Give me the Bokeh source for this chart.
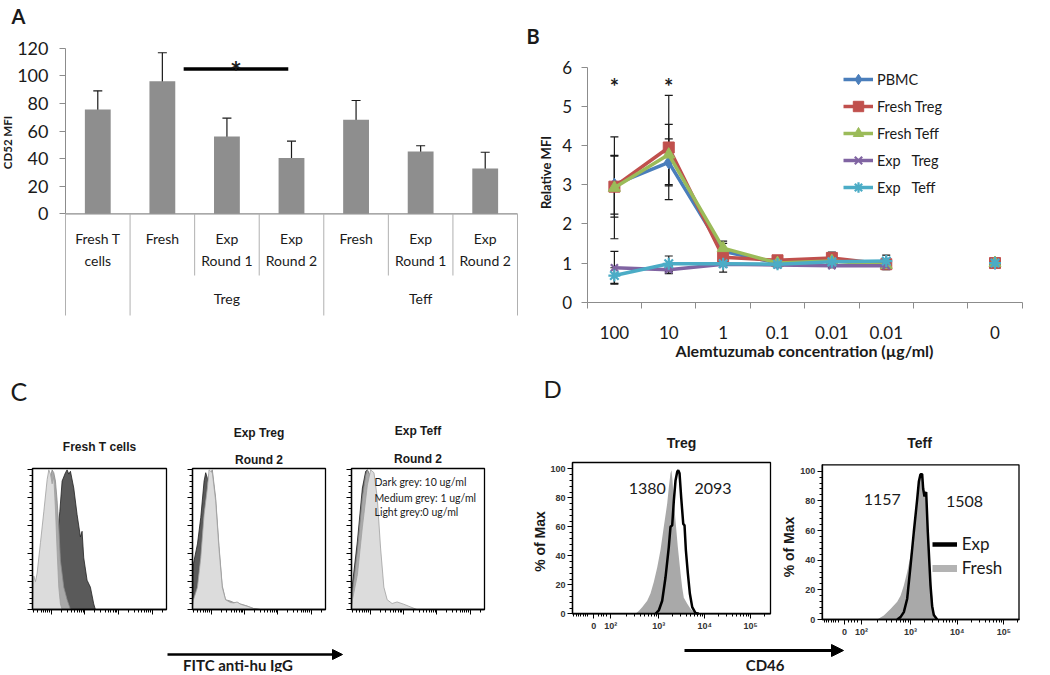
import numpy as np
from bokeh.plotting import figure
from bokeh.layouts import row, column
from bokeh.models import (Range1d, FixedTicker, Label, Whisker, TeeHead,
                          ColumnDataSource, Legend, LegendItem, Arrow, NormalHead)
from bokeh.embed import file_html
from bokeh.resources import INLINE
from bokeh.core.properties import value

NAN = float("nan")
FONT = "Lato"
FLOW = "Liberation Sans"
INK = "#1a1a1a"
AXG = "#8c8c8c"

# ---------------- Panel A data ----------------
a_labels = ["Fresh T\ncells", "Fresh", "Exp\nRound 1", "Exp\nRound 2",
            "Fresh", "Exp\nRound 1", "Exp\nRound 2"]
a_groups = ["", "Treg", "Treg", "Treg", "Teff", "Teff", "Teff"]
a_mean = [75.6, 96.1, 56.0, 40.5, 68.1, 45.1, 32.8]
a_upper = [89.1, 116.7, 69.3, 52.6, 82.1, 49.3, 44.6]
a_lower = [62.8, 75.6, 43.5, 28.5, 54.1, 41.0, 21.4]
a_yticks = [0, 20, 40, 60, 80, 100, 120]
a_sig_x = [1.83, 3.45]
a_sig_y = 105

# ---------------- Panel B data ----------------
b_conc = ["100", "10", "1", "0.1", "0.01", "0.01", "", "0"]
b_yticks = [0, 1, 2, 3, 4, 5, 6]
b_names = ["PBMC", "Fresh Treg", "Fresh Teff", "Exp   Treg", "Exp   Teff"]
b_pbmc = [3.00, 3.57, 1.30, 1.00, 1.05, 1.00, NAN, 1.0]
b_fresh_treg = [2.95, 3.95, 1.15, 1.07, 1.13, 0.97, NAN, 1.0]
b_fresh_teff = [2.92, 3.77, 1.38, 1.00, 1.05, 0.95, NAN, 1.0]
b_exp_treg = [0.88, 0.83, 0.97, 0.95, 0.93, 0.93, NAN, 1.0]
b_exp_teff = [0.68, 0.98, 0.98, 0.97, 1.03, 1.05, NAN, 1.0]
b_pbmc_err = [0.75, 0.60, 0.20, 0.05, 0.10, 0.10, NAN, NAN]
b_fresh_treg_err = [0.78, 1.33, 0.10, 0.05, 0.15, 0.10, NAN, NAN]
b_fresh_teff_err = [1.30, 0.77, 0.18, 0.05, 0.10, 0.12, NAN, NAN]
b_exp_treg_err = [0.42, 0.10, 0.20, 0.05, 0.05, 0.05, NAN, NAN]
b_exp_teff_err = [0.20, 0.20, 0.05, 0.05, 0.10, 0.15, NAN, NAN]
b_colors = ["#4a7ebb", "#c0504d", "#9bbb59", "#8064a2", "#4bacc6"]
b_markers = ["diamond", "square", "triangle", "x", "asterisk"]
b_sizes = [13, 11, 12, 10, 12]
b_star_idx = [0, 1]

# ---------------- Panel C data (x in log10 decades, y in % of max) ----------------
c_titles = [["Fresh T cells"], ["Exp Treg", "Round 2"], ["Exp Teff", "Round 2"]]
c_note = ["Dark grey: 10 ug/ml", "Medium grey: 1 ug/ml", "Light grey:0 ug/ml"]
c1_light_x = [0.445, 0.484, 0.534, 0.583, 0.682, 0.781, 0.880, 0.930, 0.979, 1.029, 1.078, 1.128, 1.177, 1.227, 1.276, 1.326]
c1_light_y = [0, 24, 20, 26, 48, 70, 93, 100, 97, 90, 95, 72, 42, 16, 4, 0]
c1_med_x = [0.682, 0.781, 0.880, 0.979, 1.029, 1.078, 1.128, 1.177, 1.227, 1.276, 1.375, 1.474, 1.573]
c1_med_y = [0, 28, 66, 95, 100, 98, 92, 78, 59, 35, 16, 7, 0]
c1_dark_x = [0.979, 1.078, 1.177, 1.257, 1.326, 1.425, 1.474, 1.524, 1.573, 1.672, 1.771, 1.870, 1.919, 1.969, 2.068, 2.167, 2.266, 2.315]
c1_dark_y = [0, 16, 50, 70, 92, 98, 100, 97, 99, 87, 68, 52, 56, 37, 21, 16, 4, 0]
c2_light_x = [0.445, 0.475, 0.594, 0.693, 0.792, 0.891, 0.940, 1.039, 1.138, 1.237, 1.336, 1.435, 1.583, 1.682, 1.781, 1.880, 2.078, 2.276, 2.474]
c2_light_y = [0, 7, 16, 37, 68, 87, 100, 98, 78, 44, 16, 7, 5, 4.7, 5.4, 3.8, 2.4, 0.7, 0]
c2_med_x = [0.445, 0.475, 0.594, 0.693, 0.792, 0.891, 0.940, 1.039, 1.138, 1.237, 1.336, 1.435, 1.583, 1.682, 1.781, 1.880, 2.078, 2.276, 2.474]
c2_med_y = [0, 5, 14, 33, 64, 85, 97, 100, 80, 46, 17, 7, 6, 5, 5, 4, 2.5, 0.7, 0]
c2_dark_x = [0.445, 0.475, 0.594, 0.693, 0.792, 0.841, 0.891, 0.940, 1.039, 1.138, 1.237, 1.336]
c2_dark_y = [0, 33, 47, 66, 92, 98, 94, 90, 80, 44, 16, 0]
c3_light_x = [0.444, 0.474, 0.622, 0.771, 0.920, 1.019, 1.118, 1.217, 1.316, 1.415, 1.514, 1.662, 1.811, 2.009, 2.207, 2.405]
c3_light_y = [0, 7, 25, 59, 89, 100, 98, 80, 44, 16, 7, 4.3, 5.4, 3.8, 1.9, 0]
c3_med_x = [0.444, 0.474, 0.622, 0.771, 0.870, 0.920, 1.019, 1.167, 1.266, 1.365, 1.464, 1.514]
c3_med_y = [0, 12, 42, 80, 96, 100, 95, 72, 42, 17, 7, 0]
c3_dark_x = [0.444, 0.474, 0.622, 0.771, 0.870, 0.920, 1.019, 1.167, 1.266, 1.365, 1.464, 1.514]
c3_dark_y = [0, 18, 49, 87, 99, 100, 94, 70, 40, 16, 7, 0]
c_xlabel = "FITC anti-hu IgG"

# ---------------- Panel D data (x in display decades, y in % of max) ----------------
d_titles = ["Treg", "Teff"]
d_tick_pos = [1.583, 1.95, 3, 4, 5]
d_tick_txt = ["0", "10\u00b2", "10\u00b3", "10\u2074", "10\u2075"]
d_yticks = [0, 20, 40, 60, 80, 100]
d1_fresh_x = [2.49, 2.563, 2.637, 2.747, 2.819, 2.891, 2.965, 3.037, 3.109, 3.183, 3.218, 3.255, 3.277, 3.299, 3.328, 3.365, 3.415, 3.474, 3.511, 3.546, 3.620, 3.692, 3.764, 3.838]
d1_fresh_y = [0, 2, 4.6, 9, 14, 22, 32, 44, 60, 76, 87, 97, 99, 92, 78, 64, 46, 28, 18, 11, 7, 3.4, 1, 0]
d1_exp_x = [2.928, 3.0, 3.074, 3.146, 3.218, 3.255, 3.292, 3.328, 3.365, 3.402, 3.424, 3.452, 3.489, 3.533, 3.561, 3.590, 3.633, 3.677, 3.729, 3.801, 3.873]
d1_exp_y = [0, 2.3, 9, 25, 46, 60, 61, 78, 92, 98, 99, 97, 80, 62, 61, 44, 28, 14, 4.6, 0.5, 0]
d2_fresh_x = [2.286, 2.428, 2.571, 2.715, 2.786, 2.857, 2.929, 3.0, 3.071, 3.107, 3.143, 3.179, 3.214, 3.250, 3.286, 3.322, 3.357, 3.393, 3.429, 3.464, 3.500, 3.536, 3.572]
d2_fresh_y = [0, 2.7, 7, 12, 16, 23, 32, 43, 59, 71, 81, 93, 98, 97, 88, 86, 66, 48, 30, 16, 5, 1, 0]
d2_exp_x = [2.715, 2.786, 2.857, 2.929, 3.0, 3.071, 3.143, 3.179, 3.214, 3.250, 3.272, 3.300, 3.336, 3.371, 3.429, 3.464, 3.500, 3.572]
d2_exp_y = [0, 1.6, 5, 14, 36, 59, 81, 93, 98, 98, 88, 83, 86, 59, 23, 9, 3, 0]
d1_mfi = ["1380", "2093"]
d2_mfi = ["1157", "1508"]
d_legend = ["Exp", "Fresh"]
d_xlabel = "CD46"

TOP_H = 405   # height of the upper row of panels (A, B)
BOT_Y = 672   # bottom of the whole figure


# ---------------- helpers ----------------
def make_fig(canvas, xmap, ymap, **kw):
    """Figure whose frame fills its canvas; xmap/ymap = (page_a, data_a, page_b, data_b)."""
    x0, y0, x1, y1 = canvas
    pa_, da_, pb_, db_ = xmap
    qa, ea, qb, eb = ymap
    sx = (db_ - da_) / (pb_ - pa_)
    sy = (eb - ea) / (qb - qa)

    def fx(px):
        return da_ + (px - pa_) * sx

    def fy(py):
        return ea + (py - qa) * sy

    p = figure(width=x1 - x0, height=y1 - y0,
               x_range=Range1d(fx(x0), fx(x1)), y_range=Range1d(fy(y1), fy(y0)),
               title=None, output_backend="svg", toolbar_location=None,
               min_border=0, min_border_left=0, min_border_right=0,
               min_border_top=0, min_border_bottom=0, **kw)
    p.outline_line_color = None
    p.background_fill_color = "white"
    p.border_fill_color = "white"
    if "frame_align" in p.properties():
        p.frame_align = False
    p.grid.visible = False
    return p, (lambda px, py: (fx(px), fy(py)))


def label(p, xy, text, size, bold=False, align="center", baseline="middle",
          angle=0.0, font=FONT, color=INK):
    p.add_layout(Label(x=xy[0], y=xy[1], text=text, text_font=font,
                       text_font_size=f"{size}px",
                       text_font_style="bold" if bold else "normal",
                       text_align=align, text_baseline=baseline, angle=angle,
                       text_color=color))


def log_minors(lo, hi):
    out = []
    for d in range(-1, 7):
        for k in range(2, 10):
            v = d + np.log10(k)
            if lo < v < hi:
                out.append(float(v))
    return out


IDENT = (0, 0, 1, 1)

# ================= Panel A =================
pa, mA = make_fig((0, 0, 522, TOP_H), (65, 0, 517, 7), (213.3, 0, 47.7, 120), x_axis_type=None)
ya = pa.yaxis[0]
ya.fixed_location = 0
ya.ticker = FixedTicker(ticks=a_yticks)
ya.bounds = (0, 120)
ya.axis_line_color = AXG
ya.major_tick_line_color = AXG
ya.minor_tick_line_color = None
ya.major_tick_out = 6
ya.major_tick_in = 0
ya.major_label_standoff = 11
ya.major_label_text_font = FONT
ya.major_label_text_font_size = "18px"
ya.major_label_text_color = INK

n_a = len(a_labels)
a_x = [i + 0.5 for i in range(n_a)]
pa.vbar(x=a_x, top=a_mean, width=0.4, fill_color="#8e8e8e", line_color=None)
pa.segment(x0=[0], y0=[0], x1=[n_a], y1=[0], line_color=AXG, line_width=1.2)
asrc = ColumnDataSource(dict(x=a_x, upper=a_upper, lower=a_lower))
pa.add_layout(Whisker(source=asrc, base="x", upper="upper", lower="lower",
                      line_color=INK, line_width=1.2,
                      upper_head=TeeHead(size=9, line_color=INK, line_width=1.2),
                      lower_head=TeeHead(size=9, line_color=INK, line_width=1.2)))
y_full = mA(0, 315)[1]
y_short = mA(0, 275)[1]
sep_x, sep_y = [], []
for b in range(n_a + 1):
    full = b in (0, n_a) or a_groups[b - 1] != a_groups[b]
    sep_x.append(b)
    sep_y.append(y_full if full else y_short)
pa.segment(x0=sep_x, y0=[0] * len(sep_x), x1=sep_x, y1=sep_y, line_color="#b0b0b0", line_width=1)
pa.text(x=a_x, y=[mA(0, 229)[1]] * n_a, text=a_labels, text_align="center",
        text_baseline="top", text_font=value(FONT), text_font_size="14px",
        text_line_height=1.35, text_color=INK)
grp_names, grp_x = [], []
for g in dict.fromkeys(a_groups):
    if g:
        idx = [i for i, gg in enumerate(a_groups) if gg == g]
        grp_names.append(g)
        grp_x.append((idx[0] + idx[-1] + 1) / 2)
pa.text(x=grp_x, y=[mA(0, 298)[1]] * len(grp_x), text=grp_names, text_align="center",
        text_baseline="middle", text_font=value(FONT), text_font_size="14px", text_color=INK)
pa.segment(x0=[a_sig_x[0]], y0=[a_sig_y], x1=[a_sig_x[1]], y1=[a_sig_y],
           line_color="black", line_width=3.5)
label(pa, ((a_sig_x[0] + a_sig_x[1]) / 2, mA(0, 70)[1]), "*", 28, bold=True)
label(pa, mA(11, 3), "A", 20, bold=True, align="left", baseline="top")
label(pa, mA(10, 390), "C", 25, align="left")
label(pa, mA(7, 142), "CD52 MFI", 11.5, bold=True, angle=np.pi / 2)

# ================= Panel B =================
nb = len(b_conc)
pb, mB = make_fig((522, 0, 1046, TOP_H), (586.7, 0, 1021.7, nb), (301.7, 0, 66.7, 6))
b_x = [i + 0.5 for i in range(nb)]
xb = pb.xaxis[0]
xb.fixed_location = 0
xb.bounds = (0, nb)
xb.ticker = FixedTicker(ticks=b_x, minor_ticks=list(range(nb + 1)))
xb.major_label_overrides = {float(c): t for c, t in zip(b_x, b_conc)}
xb.axis_line_color = AXG
xb.major_tick_line_color = None
xb.major_tick_out = 0
xb.major_tick_in = 0
xb.minor_tick_line_color = AXG
xb.minor_tick_out = 6
xb.minor_tick_in = 0
xb.major_label_standoff = 18
xb.major_label_text_font = FONT
xb.major_label_text_font_size = "17px"
xb.major_label_text_color = INK
yb = pb.yaxis[0]
yb.fixed_location = 0
yb.bounds = (0, 6)
yb.ticker = FixedTicker(ticks=b_yticks)
yb.axis_line_color = AXG
yb.major_tick_line_color = AXG
yb.minor_tick_line_color = None
yb.major_tick_out = 6
yb.major_tick_in = 0
yb.major_label_standoff = 9
yb.major_label_text_font = FONT
yb.major_label_text_font_size = "17px"
yb.major_label_text_color = INK

b_vals = [b_pbmc, b_fresh_treg, b_fresh_teff, b_exp_treg, b_exp_teff]
b_errs = [b_pbmc_err, b_fresh_treg_err, b_fresh_teff_err, b_exp_treg_err, b_exp_teff_err]
items = []
for name, vals, col, mk, sz in zip(b_names, b_vals, b_colors, b_markers, b_sizes):
    vals_a = np.array(vals, dtype=float)
    lr = pb.line(x=b_x, y=vals_a, line_color=col, line_width=3.5)
    sr = pb.scatter(x=b_x, y=vals_a, marker=mk, size=sz, fill_color=col, line_color=col,
                    line_width=2.2 if mk in ("x", "asterisk") else 1)
    items.append(LegendItem(label=name, renderers=[lr, sr]))
for vals, errs in zip(b_vals, b_errs):
    xs, up, lo = [], [], []
    for xi, v, e in zip(b_x, vals, errs):
        if not (np.isnan(v) or np.isnan(e)):
            xs.append(xi); up.append(v + e); lo.append(v - e)
    src = ColumnDataSource(dict(x=xs, upper=up, lower=lo))
    pb.add_layout(Whisker(source=src, base="x", upper="upper", lower="lower",
                          line_color=INK, line_width=1.2,
                          upper_head=TeeHead(size=8, line_color=INK, line_width=1.2),
                          lower_head=TeeHead(size=8, line_color=INK, line_width=1.2)))
leg = Legend(items=items, location=(843 - 522, TOP_H - 200), glyph_width=30, glyph_height=26,
             label_height=26, spacing=1, padding=0, margin=0, label_standoff=4,
             border_line_color=None, background_fill_alpha=0,
             label_text_font=FONT, label_text_font_size="14.5px", label_text_color=INK)
pb.add_layout(leg)
for i in b_star_idx:
    label(pb, (b_x[i], mB(0, 86)[1]), "*", 22, bold=True)
label(pb, mB(526, 23), "B", 20, bold=True, align="left", baseline="top")
label(pb, mB(543, 388), "D", 24, align="left")
label(pb, mB(545, 172), "Relative MFI", 13, bold=True, angle=np.pi / 2)
label(pb, mB(804, 350), "Alemtuzumab concentration (\u00b5g/ml)", 16, bold=True)

# ================= Panel C =================
C_LO, C_HI = 0.445, 4.43
C_TOP = 101
c_xmaj = [1, 2, 3, 4]
c_xmin = log_minors(C_LO, C_HI)
c_ymaj = list(range(0, 101, 20))
c_ymin = list(range(0, 101, 4))


def flow_axes(p, xlo, xhi, ytop, xmaj, xmin, ymaj, ymin, show_labels):
    xa, yax = p.xaxis[0], p.yaxis[0]
    xa.fixed_location = 0
    xa.bounds = (xlo, xhi)
    yax.fixed_location = xlo
    yax.bounds = (0, ytop)
    xa.ticker = FixedTicker(ticks=xmaj, minor_ticks=xmin)
    yax.ticker = FixedTicker(ticks=ymaj, minor_ticks=ymin)
    for ax in (xa, yax):
        ax.axis_line_color = "black"
        ax.axis_line_width = 1.3
        ax.major_tick_line_color = "black"
        ax.minor_tick_line_color = "black"
        ax.major_tick_in = 0
        ax.minor_tick_in = 0
        ax.major_tick_out = 5
        ax.minor_tick_out = 3
        if not show_labels:
            ax.major_label_text_color = None


c_canvas = [(0, TOP_H, 179, 630), (179, TOP_H, 338, 630), (338, TOP_H, 500, 630)]
c_box = [(32, 166), (192, 325), (351, 484)]
c_hists = [
    [(c1_dark_x, c1_dark_y), (c1_med_x, c1_med_y), (c1_light_x, c1_light_y)],
    [(c2_dark_x, c2_dark_y), (c2_med_x, c2_med_y), (c2_light_x, c2_light_y)],
    [(c3_dark_x, c3_dark_y), (c3_med_x, c3_med_y), (c3_light_x, c3_light_y)],
]
shade_fill = ["#5a5a5a", "#a9a9a9", "#dcdcdc"]
shade_line = ["#222222", "#8a8a8a", "#a0a0a0"]
c_title_y = [[446], [432, 459], [430, 458]]
c_figs = []
for k in range(3):
    fl, fr = c_box[k]
    p, m = make_fig(c_canvas[k], (fl, C_LO, fr, C_HI), (609, 0, 468, C_TOP))
    for (hx, hy), fc, lc in zip(c_hists[k], shade_fill, shade_line):
        p.patch(hx, hy, fill_color=fc, line_color=lc, line_width=0.8)
    p.quad(left=[C_LO], right=[C_HI], bottom=[0], top=[C_TOP], fill_color=None,
           line_color="black", line_width=1.3)
    flow_axes(p, C_LO, C_HI, C_TOP, c_xmaj, c_xmin, c_ymaj, c_ymin, False)
    cx = (fl + fr) / 2
    for t, ty in zip(c_titles[k], c_title_y[k]):
        label(p, m(cx, ty), t, 12, bold=True, font=FLOW)
    if k == 2:
        for t, ty in zip(c_note, [481.7, 497.3, 511]):
            label(p, m(374, ty), t, 10.5, align="left")
    c_figs.append(p)

carrow, _ = make_fig((0, 630, 500, BOT_Y), IDENT, IDENT, x_axis_type=None, y_axis_type=None)
carrow.add_layout(Arrow(end=NormalHead(size=10, fill_color="black", line_color="black"),
                        x_start=167, y_start=654, x_end=342, y_end=654,
                        line_width=2.5, line_color="black"))
label(carrow, (237.5, 664), c_xlabel, 15, bold=True)

# ================= Panel D =================
d_xmin = [1.15, 1.2, 1.25, 1.3, 1.35, 1.4, 1.45, 1.68, 1.74, 1.8, 1.86] + log_minors(2.0, 5.45)
d_ymin = list(range(0, 101, 4))


def d_panel(canvas, xmap, ymap, box, fresh, exp, title, title_xy, mfi, mfi_xy, ylab_xy):
    p, m = make_fig(canvas, xmap, ymap)
    xlo, ytop = m(box[0], box[1])
    xhi, _ = m(box[2], box[3])
    p.patch(fresh[0], fresh[1], fill_color="#a9a9a9", line_color=None)
    p.line(exp[0], exp[1], line_color="black", line_width=2.5)
    p.quad(left=[xlo], right=[xhi], bottom=[0], top=[ytop], fill_color=None,
           line_color="black", line_width=1.3)
    flow_axes(p, xlo, xhi, ytop, d_tick_pos, d_xmin, d_yticks, d_ymin, True)
    xa, yax = p.xaxis[0], p.yaxis[0]
    xa.major_label_overrides = {float(v): t for v, t in zip(d_tick_pos, d_tick_txt)}
    for ax in (xa, yax):
        ax.major_label_text_font = FLOW
        ax.major_label_text_font_size = "9px"
        ax.major_label_text_font_style = "bold"
        ax.major_label_text_color = "#333333"
        ax.major_tick_out = 5
        ax.minor_tick_out = 3
        ax.major_label_standoff = 2
    label(p, m(*title_xy), title, 14, bold=True, font=FLOW)
    for t, xy in zip(mfi, mfi_xy):
        label(p, m(*xy), t, 16)
    label(p, m(*ylab_xy), "% of Max", 14, bold=True, font=FLOW, angle=np.pi / 2)
    return p, m, xlo


d1, m1, _ = d_panel((500, TOP_H, 776, 640), (658.3, 3, 750, 5), (613.3, 0, 468.3, 100),
                    (572, 462, 770, 613.3), (d1_fresh_x, d1_fresh_y), (d1_exp_x, d1_exp_y),
                    d_titles[0], (681, 442), d1_mfi, [(646.7, 488.3), (712.5, 488.3)], (539, 541))
d2, m2, d2_lo = d_panel((776, TOP_H, 1046, 640), (910, 3, 1003.3, 5), (619, 0, 470.7, 100),
                        (821.7, 464.3, 1018.5, 619), (d2_fresh_x, d2_fresh_y), (d2_exp_x, d2_exp_y),
                        d_titles[1], (919, 442), d2_mfi, [(881.7, 499), (964, 501)], (788, 546.5))
off_x = [d2_lo - 3, d2_lo - 2]
lg_exp = d2.line(off_x, [50, 50], line_color="black", line_width=4.5)
lg_fresh = d2.line(off_x, [50, 50], line_color="#b3b3b3", line_width=7)
dleg = Legend(items=[LegendItem(label=d_legend[0], renderers=[lg_exp]),
                     LegendItem(label=d_legend[1], renderers=[lg_fresh])],
              location=(931.7 - 776, 640 - 578.3), glyph_width=25, glyph_height=20,
              label_height=20, spacing=3, padding=0, margin=0, label_standoff=5,
              border_line_color=None, background_fill_alpha=0,
              label_text_font=FONT, label_text_font_size="17px", label_text_color=INK)
d2.add_layout(dleg)

darrow, _ = make_fig((500, 640, 1046, BOT_Y), IDENT, IDENT, x_axis_type=None, y_axis_type=None)
darrow.add_layout(Arrow(end=NormalHead(size=12, fill_color="black", line_color="black"),
                        x_start=684, y_start=650, x_end=843, y_end=650,
                        line_width=3, line_color="black"))
label(darrow, (764.6, 664), d_xlabel, 15, bold=True)

layout = column(
    row(pa, pb, spacing=0),
    row(column(row(*c_figs, spacing=0), carrow, spacing=0),
        column(row(d1, d2, spacing=0), darrow, spacing=0), spacing=0),
    spacing=0,
)

html = file_html(layout, INLINE, title="CD52 / CD46 expression")
open("out.html", "w").write(html)
